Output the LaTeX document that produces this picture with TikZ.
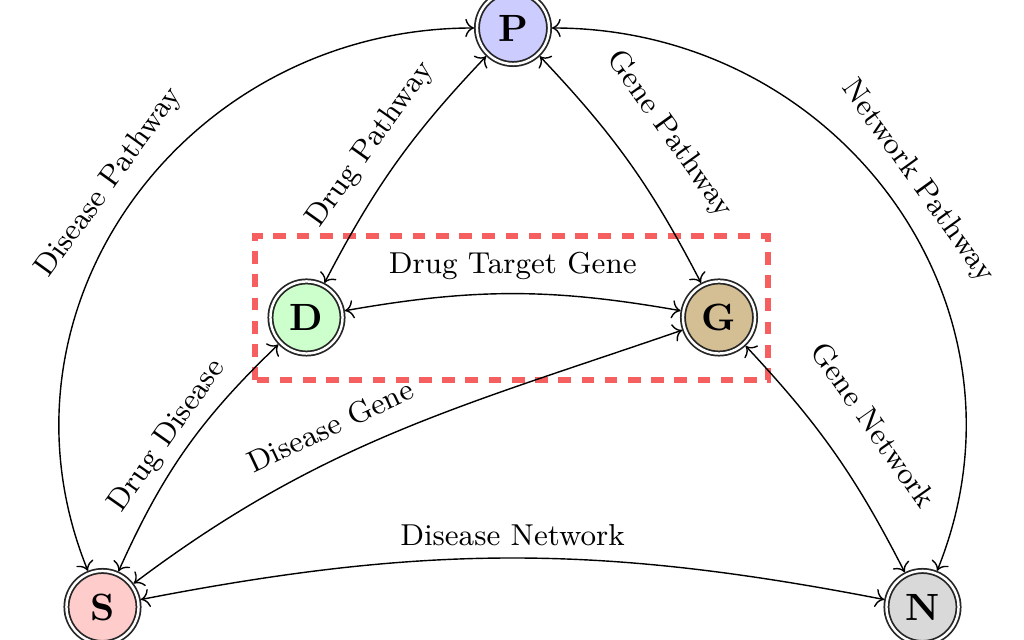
\documentclass[tikz,border=0pt]{standalone}
\usetikzlibrary{arrows.meta}
\definecolor{boxred}{RGB}{245,95,95}
\definecolor{gtan}{RGB}{212,190,148}
\begin{document}
\begin{tikzpicture}[x=0.01cm,y=0.01cm,
  every node/.style={font=\fontsize{8.6pt}{10pt}\selectfont},
  ent/.style={circle, draw=black!85, double, double distance=0.7pt, line width=0.5pt,
    minimum size=20.5pt, inner sep=0pt, outer sep=0.85pt,
    font=\fontsize{10.8pt}{12pt}\selectfont\bfseries},
  rel/.style={<->, line width=0.4pt},
  lab/.style={sloped, above=#1},
  lab/.default=1.5pt,
  focus/.style={draw=boxred, line width=1.5pt, dash pattern=on 3.6pt off 3pt}]
\useasboundingbox (0,0) rectangle (1024,640);
\draw[focus] (255,260) rectangle (768,404);
\node[ent, fill=blue!20] (P) at (513,612) {P};
\node[ent, fill=green!20] (D) at (306.5,322.5) {D};
\node[ent, fill=gtan] (G) at (719,322.5) {G};
\node[ent, fill=red!20] (S) at (102.5,33) {S};
\node[ent, fill=gray!30] (N) at (922.5,33) {N};
\draw[rel] (P) to[out=180,in=112,looseness=1.1] node[lab=1pt]{Disease Pathway} (S);
\draw[rel] (P) to[out=0,in=68,looseness=1.1] node[lab=1.5pt]{Network Pathway} (N);
\draw[rel] (P) to[bend right=8] node[lab=1.5pt]{Drug Pathway} (D);
\draw[rel] (P) to[bend left=8] node[lab=6.5pt]{Gene Pathway} (G);
\draw[rel] (D) to[bend left=10] node[lab=0.4pt]{Drug Target Gene} (G);
\draw[rel] (S) to[bend left=11] node[lab=-1pt]{Drug Disease} (D);
\draw[rel] (S) to[out=37,in=199] node[lab=2.5pt,pos=.4]{Disease Gene} (G);
\draw[rel] (G) to[bend left=8] node[lab=7pt]{Gene Network} (N);
\draw[rel] (S) to[bend left=11] node[lab=0pt]{Disease Network} (N);
\end{tikzpicture}
\end{document}
